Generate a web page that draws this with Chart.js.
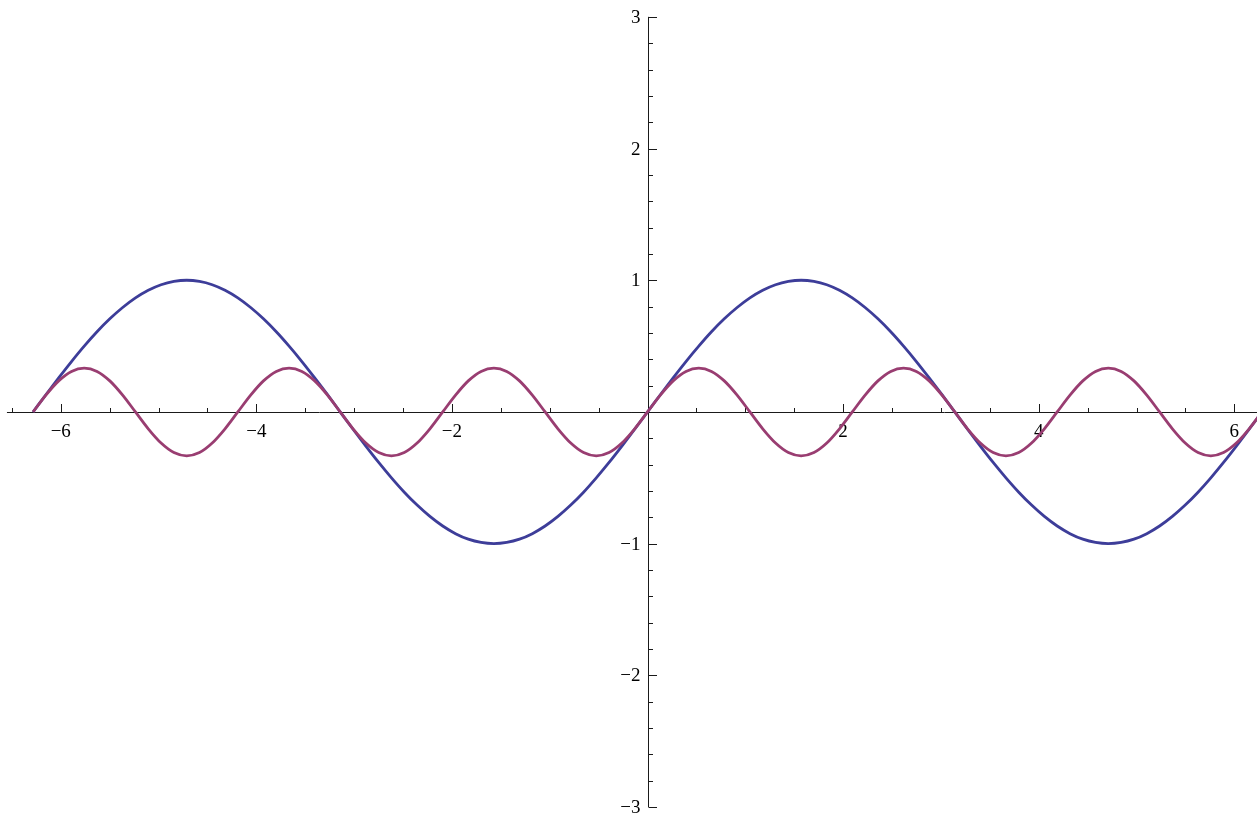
<!DOCTYPE html>
<html>
<head>
<meta charset="utf-8">
<script src="https://cdn.jsdelivr.net/npm/chart.js@4.4.0/dist/chart.umd.min.js"></script>
<style>
html,body{margin:0;padding:0;background:#fff;}
#wrap{width:1257px;height:813px;position:relative;}
</style>
</head>
<body>
<div id="wrap"><canvas id="c"></canvas></div>
<script>
// x positions of the sampled points
const xValues = [
 -6.283,-6.152,-6.021,-5.890,-5.760,-5.629,-5.498,-5.367,-5.236,-5.105,-4.974,-4.843,-4.712,-4.581,-4.451,-4.320,
 -4.189,-4.058,-3.927,-3.796,-3.665,-3.534,-3.403,-3.272,-3.142,-3.011,-2.880,-2.749,-2.618,-2.487,-2.356,-2.225,
 -2.094,-1.963,-1.833,-1.702,-1.571,-1.440,-1.309,-1.178,-1.047,-0.916,-0.785,-0.654,-0.524,-0.393,-0.262,-0.131,
 0,
 0.131,0.262,0.393,0.524,0.654,0.785,0.916,1.047,1.178,1.309,1.440,1.571,1.702,1.833,1.963,2.094,
 2.225,2.356,2.487,2.618,2.749,2.880,3.011,3.142,3.272,3.403,3.534,3.665,3.796,3.927,4.058,4.189,
 4.320,4.451,4.581,4.712,4.843,4.974,5.105,5.236,5.367,5.498,5.629,5.760,5.890,6.021,6.152,6.283
];
// blue curve values
const blueValues = [
 0,0.131,0.259,0.383,0.5,0.609,0.707,0.793,0.866,0.924,0.966,0.991,1,0.991,0.966,0.924,
 0.866,0.793,0.707,0.609,0.5,0.383,0.259,0.131,0,-0.131,-0.259,-0.383,-0.5,-0.609,-0.707,-0.793,
 -0.866,-0.924,-0.966,-0.991,-1,-0.991,-0.966,-0.924,-0.866,-0.793,-0.707,-0.609,-0.5,-0.383,-0.259,-0.131,
 0,
 0.131,0.259,0.383,0.5,0.609,0.707,0.793,0.866,0.924,0.966,0.991,1,0.991,0.966,0.924,0.866,
 0.793,0.707,0.609,0.5,0.383,0.259,0.131,0,-0.131,-0.259,-0.383,-0.5,-0.609,-0.707,-0.793,-0.866,
 -0.924,-0.966,-0.991,-1,-0.991,-0.966,-0.924,-0.866,-0.793,-0.707,-0.609,-0.5,-0.383,-0.259,-0.131,0
];
// purple curve values
const purpleValues = [
 0,0.128,0.236,0.308,0.333,0.308,0.236,0.128,0,-0.128,-0.236,-0.308,-0.333,-0.308,-0.236,-0.128,
 0,0.128,0.236,0.308,0.333,0.308,0.236,0.128,0,-0.128,-0.236,-0.308,-0.333,-0.308,-0.236,-0.128,
 0,0.128,0.236,0.308,0.333,0.308,0.236,0.128,0,-0.128,-0.236,-0.308,-0.333,-0.308,-0.236,-0.128,
 0,0.128,0.236,0.308,0.333,0.308,0.236,0.128,0,-0.128,-0.236,-0.308,-0.333,-0.308,-0.236,-0.128,
 0,0.128,0.236,0.308,0.333,0.308,0.236,0.128,0,-0.128,-0.236,-0.308,-0.333,-0.308,-0.236,-0.128,
 0,0.128,0.236,0.308,0.333,0.308,0.236,0.128,0,-0.128,-0.236,-0.308,-0.333,-0.308,-0.236,-0.128,
 0
];
// tick values and labels
const xMajorTicks = [-6,-4,-2,2,4,6];
const xTickLabels = ['\u22126','\u22124','\u22122','2','4','6'];
const xMinorTicks = [-6.5,-5.5,-5,-4.5,-3.5,-3,-2.5,-1.5,-1,-0.5,0.5,1,1.5,2.5,3,3.5,4.5,5,5.5];
const yMajorTicks = [-3,-2,-1,1,2,3];
const yTickLabels = ['\u22123','\u22122','\u22121','1','2','3'];
const yMinorTicks = [-2.8,-2.6,-2.4,-2.2,-1.8,-1.6,-1.4,-1.2,-0.8,-0.6,-0.4,-0.2,
                     0.2,0.4,0.6,0.8,1.2,1.4,1.6,1.8,2.2,2.4,2.6,2.8];
const xAxisStart = -6.55;
const yAxisRange = [-3, 3];

const blueData = xValues.map((x,i)=>({x:x,y:blueValues[i]}));
const purpleData = xValues.map((x,i)=>({x:x,y:purpleValues[i]}));

const axesPlugin = {
  id:'mathAxes',
  beforeDatasetsDraw(chart){
    const ctx = chart.ctx;
    const sx = chart.scales.x, sy = chart.scales.y;
    const x0 = Math.round(sx.getPixelForValue(0)) + 0.5;
    const y0 = Math.round(sy.getPixelForValue(0)) + 0.5;
    ctx.save();
    ctx.strokeStyle = '#1a1a1a';
    ctx.lineWidth = 1;
    ctx.beginPath();
    ctx.moveTo(sx.getPixelForValue(xAxisStart), y0);
    ctx.lineTo(chart.width, y0);
    ctx.moveTo(x0, sy.getPixelForValue(yAxisRange[1]));
    ctx.lineTo(x0, sy.getPixelForValue(yAxisRange[0]));
    xMajorTicks.forEach(v=>{
      const p = Math.round(sx.getPixelForValue(v)) + 0.5;
      ctx.moveTo(p, y0); ctx.lineTo(p, y0 - 8.5);
    });
    xMinorTicks.forEach(v=>{
      const p = Math.round(sx.getPixelForValue(v)) + 0.5;
      ctx.moveTo(p, y0); ctx.lineTo(p, y0 - 4.5);
    });
    yMajorTicks.forEach(v=>{
      const p = Math.round(sy.getPixelForValue(v)) + 0.5;
      ctx.moveTo(x0, p); ctx.lineTo(x0 + 8.5, p);
    });
    yMinorTicks.forEach(v=>{
      const p = Math.round(sy.getPixelForValue(v)) + 0.5;
      ctx.moveTo(x0, p); ctx.lineTo(x0 + 4.5, p);
    });
    ctx.stroke();
    ctx.fillStyle = '#000';
    ctx.font = '19px "Liberation Serif", "Times New Roman", serif';
    ctx.textAlign = 'center';
    ctx.textBaseline = 'middle';
    xMajorTicks.forEach((v,i)=>{
      ctx.fillText(xTickLabels[i], sx.getPixelForValue(v), y0 + 20);
    });
    ctx.textAlign = 'right';
    yMajorTicks.forEach((v,i)=>{
      ctx.fillText(yTickLabels[i], x0 - 8, sy.getPixelForValue(v) + 1);
    });
    ctx.restore();
  }
};

new Chart(document.getElementById('c'), {
  type:'scatter',
  data:{
    datasets:[
      {data:blueData, showLine:true, borderColor:'#3d3d99', borderWidth:2.8,
       pointRadius:0, cubicInterpolationMode:'monotone', order:2},
      {data:purpleData, showLine:true, borderColor:'#993d71', borderWidth:2.8,
       pointRadius:0, cubicInterpolationMode:'monotone', order:1}
    ]
  },
  options:{
    responsive:true,
    maintainAspectRatio:false,
    animation:false,
    layout:{padding:0},
    plugins:{legend:{display:false}, tooltip:{enabled:false}},
    scales:{
      x:{type:'linear', min:-6.621, max:6.232, display:false},
      y:{type:'linear', min:-3.045, max:3.128, display:false}
    }
  },
  plugins:[axesPlugin]
});
</script>
</body>
</html>
